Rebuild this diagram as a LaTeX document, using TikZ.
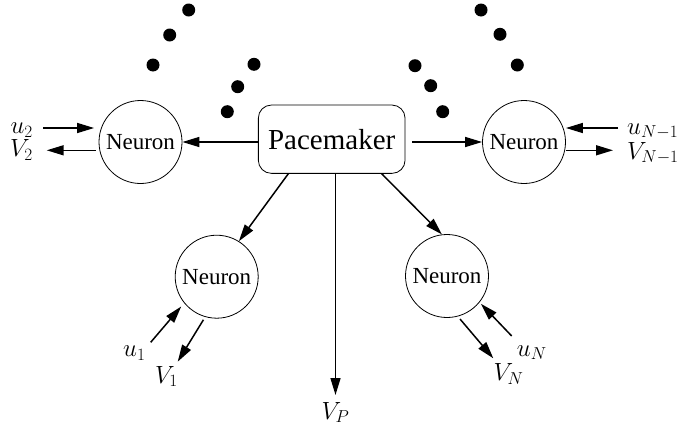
\documentclass[tikz,border=0pt]{standalone}
\usepackage{fontspec}
\setmainfont{Liberation Serif}
\usepackage{tikz}
\usetikzlibrary{arrows.meta,positioning}

\tikzset{
  neuron/.style={draw, circle, line width=0.8pt, minimum size=83pt, inner sep=0pt,
    font=\fontsize{23}{23}\selectfont},
  pacer/.style={draw, rectangle, rounded corners=13pt, line width=0.8pt,
    minimum width=146.7pt, minimum height=68.3pt, inner sep=0pt,
    font=\fontsize{29}{29}\selectfont},
  lbl/.style={inner sep=0pt, font=\fontsize{24}{24}\selectfont},
  arr/.style={-{Triangle[length=17pt,width=10pt]}, line width=1.5pt}
}

\begin{document}
\begin{tikzpicture}[x=1pt,y=-1pt]
			\useasboundingbox (0,0) rectangle (680,434);
			
			% the pacemaker and its neurons
			\node[pacer] (pm) at (331.7,139.2) {Pacemaker};
			\node[neuron] (nl) at (140.5,142) {Neuron};
			\node[neuron] (nr) at (524,142) {Neuron};
			\node[neuron] (nbl) at (216.7,276.7) {Neuron};
			\node[neuron] (nbr) at (447,276) {Neuron};
			
			% dots for the further neurons
			\foreach \px/\py in {188.7/10, 169.7/35, 153/65, 254/64.3, 237.7/86.7, 227.3/111.7,
			                    415/65.7, 430.7/85.7, 442.7/111.7, 481/10, 500/34.3, 517.3/65}
				\fill (\px,\py) circle [radius=6.5pt];
			
			% pacemaker outputs
			\node[lbl, anchor=north] (vp) at (335.5,402) {$V_P$};
			\draw [arr] (pm.west |- nl) -- (nl);
			\draw [arr, shorten <=7pt] (pm.east |- nr) -- (nr);
			\draw [arr] ([xshift=-43.4pt]pm.south) -- (nbl.58);
			\draw [arr] ([xshift=50pt]pm.south) -- (nbr.97);
			\draw [arr, shorten >=7pt] (pm.south -| vp) -- (vp.north);
			
			% left neuron
			\node[lbl, anchor=base east] (u2) at (33,133.5) {$u_2$};
			\node[lbl, anchor=base east] (v2) at (33,156.5) {$V_2$};
			\coordinate (u2a) at (43,128);
			\coordinate (v2a) at (46.7,150.3);
			\draw [arr, shorten >=4.5pt] (u2a) -- (u2a -| nl.west);
			\draw [arr, shorten <=3pt] (v2a -| nl.west) -- (v2a);
			
			% right neuron
			\node[lbl, anchor=base west] (uN1) at (627,134) {$u_{N-1}$};
			\node[lbl, anchor=base west] (vN1) at (627,159) {$V_{N-1}$};
			\coordinate (uN1a) at (618,128);
			\coordinate (vN1a) at (613,150.3);
			\draw [arr] (uN1a) -- (uN1a -| nr.east);
			\draw [arr] (vN1a -| nr.east) -- (vN1a);
			
			% lower left neuron
			\node[lbl, anchor=base west] (u1) at (123,356.7) {$u_1$};
			\node[lbl, anchor=base west] (v1) at (155,383) {$V_1$};
			\coordinate (u1a) at (150.7,342.3);
			\coordinate (v1a) at (177.7,361.7);
			\draw [arr, shorten >=4.5pt] (u1a) -- (nbl.219);
			\draw [arr, shorten <=3.3pt] (nbl.254) -- (v1a);
			
			% lower right neuron
			\node[lbl, anchor=base west] (uN) at (516.7,356) {$u_N$};
			\node[lbl, anchor=base west] (vN) at (493.3,380.4) {$V_N$};
			\coordinate (uNa) at (511.7,336);
			\coordinate (vNa) at (493.3,358.3);
			\draw [arr, shorten >=2pt] (uNa) -- (nbr.321);
			\draw [arr, shorten <=3.4pt] (nbr.285) -- (vNa);
		\end{tikzpicture}
\end{document}
